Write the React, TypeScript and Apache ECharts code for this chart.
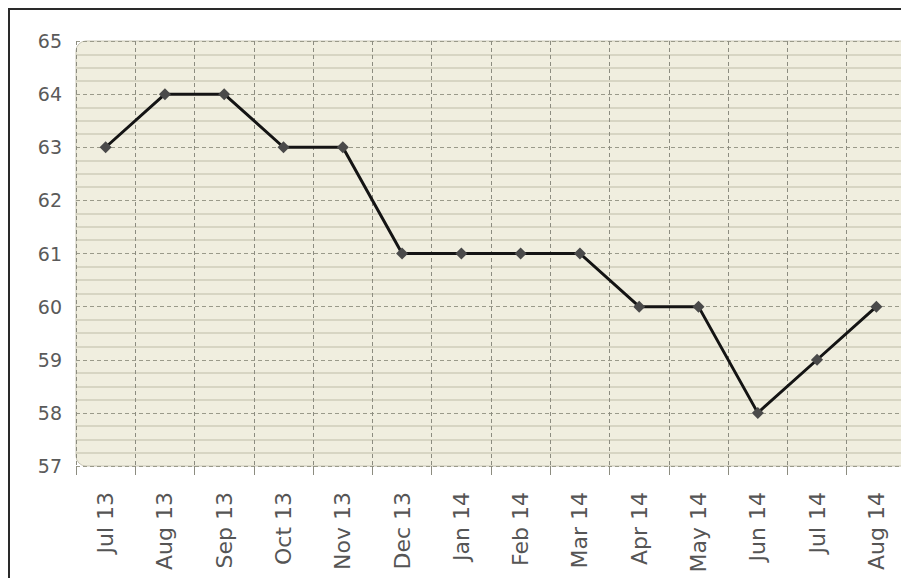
import React, { useEffect, useRef } from "react";
import * as echarts from "echarts";

const categories = [
  "Jul 13", "Aug 13", "Sep 13", "Oct 13", "Nov 13", "Dec 13", "Jan 14",
  "Feb 14", "Mar 14", "Apr 14", "May 14", "Jun 14", "Jul 14", "Aug 14",
];
const values = [63, 64, 64, 63, 63, 61, 61, 61, 61, 60, 60, 58, 59, 60];
const yMin = 57;
const yMax = 65;

export default function App() {
  const ref = useRef<HTMLDivElement>(null);
  useEffect(() => {
    document.body.style.margin = "0";
    const chart = echarts.init(ref.current!, undefined, { renderer: "svg" });
    const gridLeft = 76;
    const gridTop = 41;
    const gridWidth = 830;
    const gridHeight = 425;
    chart.setOption({
      animation: false,
      backgroundColor: "#ffffff",
      graphic: [
        {
          type: "rect",
          z: -100,
          silent: true,
          shape: { x: gridLeft, y: gridTop, width: gridWidth + 20, height: gridHeight, r: 10 },
          style: { fill: "#f0eedf", stroke: "#c9c6b4", lineWidth: 1 },
        },
        {
          type: "rect",
          z: 100,
          silent: true,
          shape: { x: 9, y: 9, width: 1000, height: 1000 },
          style: { fill: "none", stroke: "#2a2a2a", lineWidth: 2 },
        },
      ],
      grid: {
        left: gridLeft,
        top: gridTop,
        width: gridWidth,
        height: gridHeight,
        containLabel: false,
        outerBoundsMode: "none",
      },
      xAxis: {
        type: "category",
        data: categories,
        boundaryGap: true,
        axisLine: { show: false },
        axisTick: { show: true, interval: 0, length: 9, lineStyle: { color: "#8c8c80", width: 1 } },
        axisLabel: {
          interval: 0,
          rotate: 90,
          margin: 26,
          color: "#555",
          fontFamily: "DejaVu Sans",
          fontSize: 22,
        },
        splitLine: { show: true, interval: 0, lineStyle: { color: "#8c8c80", type: [4, 3], width: 1 } },
      },
      yAxis: {
        type: "value",
        min: yMin,
        max: yMax,
        interval: 1,
        axisLine: { show: false },
        axisTick: { show: false },
        axisLabel: { margin: 14, color: "#5a5a5a", fontFamily: "DejaVu Sans", fontSize: 19 },
        splitLine: { show: true, lineStyle: { color: "#9a9a8a", type: [4, 3], width: 1 } },
        minorTick: { show: false, splitNumber: 4 },
        minorSplitLine: { show: true, lineStyle: { color: "#cfccba", width: 1.5 } },
      },
      series: [
        {
          type: "line",
          data: values,
          symbol: "diamond",
          symbolSize: 12,
          showAllSymbol: true,
          lineStyle: { color: "#141414", width: 3 },
          itemStyle: { color: "#4a4a4a" },
          z: 5,
        },
      ],
    });
    return () => chart.dispose();
  }, []);
  return <div ref={ref} style={{ width: 901, height: 578 }} />;
}
